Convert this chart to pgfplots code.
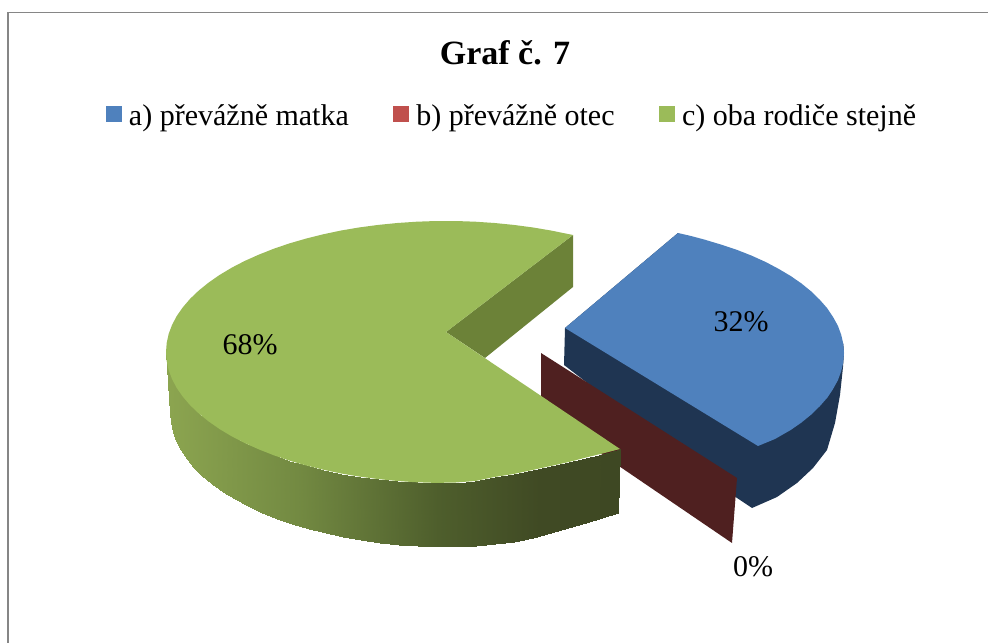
\documentclass[border=0pt]{standalone}
\usepackage{fontspec}
\setmainfont{Liberation Serif}
\usepackage{pgfplots}
\pgfplotsset{compat=1.18}
\definecolor{blueT}{HTML}{4F81BD}
\definecolor{blueD}{HTML}{1F3552}
\definecolor{redL}{HTML}{C0504D}
\definecolor{redD}{HTML}{4F2020}
\definecolor{greenT}{HTML}{9BBB59}
\definecolor{greenW}{HTML}{6C8238}
\definecolor{frame}{HTML}{868686}
\begin{document}
\begin{tikzpicture}
\begin{axis}[
  at={(0,0)}, anchor=south west,
  width=988bp, height=643bp, scale only axis,
  xmin=0, xmax=988, ymin=0, ymax=643, y dir=reverse,
  hide axis, clip=true,
  colormap={sidegreen}{rgb255(0pt)=(140,165,80); rgb255(130pt)=(115,138,66); rgb255(270pt)=(78,94,44); rgb255(370pt)=(64,74,36); rgb255(450pt)=(62,72,35)},
  legend columns=3,
  legend style={draw=none, fill=none, at={(axis cs:106,116)}, anchor=west, font=\fontsize{30bp}{32bp}\selectfont,
    /tikz/every even column/.append style={column sep=42.5bp},
    /tikz/every odd column/.append style={column sep=5bp}, inner sep=0pt, outer sep=0pt},
  legend cell align=left,
  legend image code/.code={\fill[#1] (0bp,-6bp) rectangle (16bp,10bp);},
]
\path (rel axis cs:0,0) rectangle (rel axis cs:1,1);
% frame
\addplot[frame, line width=1.3bp, forget plot] coordinates {(8,643) (8,12.5) (988,12.5)};
% blue side
\addplot[fill=blueD, draw=none, forget plot] coordinates {
(565,328)(678,233)(843.3,343.9)(844,353)(843,367)(840,395)(835,423)(827,450)(813,468)(797,483)(777,497)(752,508)(737,498)(564,365)} -- cycle;
% blue top
\addplot[fill=blueT, draw=none, forget plot] coordinates {
(565,328)(678,233)(691,236)(704.5,239.6)(720.8,244.5)(736.8,249.8)(751.5,255.6)(765.7,262)(778.5,268.8)(790.7,276)(801.5,283.5)(811.3,291.5)(819.8,299.8)(827.2,308.2)(833,316.9)(837.9,325.8)(841.2,334.8)(843.3,343.9)(844,353)(843.3,362.1)(841.2,371.2)(837.9,380.2)(833,389.1)(827.2,397.8)(819.8,406.2)(811.3,414.5)(801.5,422.5)(790.7,430)(775,439)(758,446)} -- cycle;
% red wall
\addplot[fill=redD, draw=none, forget plot] coordinates {
(541,353)(737,478)(732,543)(541,413)} -- cycle;
% green inner wall
\addplot[fill=greenW, draw=none, forget plot] coordinates {
(446,332)(573,235)(573,287)(485,358)} -- cycle;
% green outer side
\addplot[surf, shader=interp, mesh/rows=2, point meta=x, forget plot] table[x=x,y=y] {
x y
166 352
166.7 361.1
168.7 370.2
172.1 379.2
176.8 388.1
182.9 396.8
190.2 405.3
198.8 413.5
208.6 421.4
219.5 429
231.5 436.2
244.6 443
258.7 449.3
273.6 455.2
289.4 460.6
306 465.4
323.2 469.7
341.1 473.5
359.5 476.6
378.3 479.1
397.4 481
416.7 482.3
436.2 482.9
455.8 482.5
475.3 481
494.6 477
513.7 474
532.5 470
550.9 466
568.8 462
586 457.5
602.6 453.5
620 449
170 413
170.7 422.4
172.7 431.7
176.1 440.9
180.7 449.9
186.7 458.8
194 467.5
202.4 475.9
212.1 484
222.9 491.8
234.8 499.1
247.8 506.1
261.7 512.6
276.5 518.6
292.1 524.1
308.5 529
325.6 533.4
343.2 537.2
361.4 540.4
380 543
398.9 545
418.1 546.3
437.3 546.9
456.7 546.9
475.9 545.5
495.1 544
514 541.5
532.6 537.5
550.8 533
568.4 528
585.5 523
601.9 518
618 513
};
% green top
\addplot[fill=greenT, draw=none, forget plot] coordinates {
(446,332)(573,235)(550.9,230.5)(532.5,227.4)(513.7,224.9)(494.6,223)(475.3,221.7)(455.8,221)(436.2,221)(416.7,221.7)(397.4,223)(378.3,224.9)(359.5,227.4)(341.1,230.5)(323.2,234.3)(306,238.6)(289.4,243.4)(273.6,248.8)(258.7,254.7)(244.6,261)(231.5,267.8)(219.5,275)(208.6,282.6)(198.8,290.5)(190.2,298.7)(182.9,307.2)(176.8,315.9)(172.1,324.8)(168.7,333.8)(166.7,342.9)(166,352)
(166.7,361.1)(168.7,370.2)(172.1,379.2)(176.8,388.1)(182.9,396.8)(190.2,405.3)(198.8,413.5)(208.6,421.4)(219.5,429)(231.5,436.2)(244.6,443)(258.7,449.3)(273.6,455.2)(289.4,460.6)(306,465.4)(323.2,469.7)(341.1,473.5)(359.5,476.6)(378.3,479.1)(397.4,481)(416.7,482.3)(436.2,482.9)(455.8,482.5)(475.3,481)(494.6,477)(513.7,474)(532.5,470)(550.9,466)(568.8,462)(586,457.5)(602.6,453.5)(620,449)} -- cycle;
% legend
\addlegendimage{fill=blueT, draw=none}
\addlegendentry{a) převážně matka}
\addlegendimage{fill=redL, draw=none}
\addlegendentry{b) převážně otec}
\addlegendimage{fill=greenT, draw=none}
\addlegendentry{c) oba rodiče stejně}
% labels
\node[font=\bfseries\fontsize{34bp}{36bp}\selectfont, anchor=base] at (axis cs:505,65) {Graf č. 7};
\node[font=\fontsize{30bp}{32bp}\selectfont, anchor=base] at (axis cs:250,354) {68\%};
\node[font=\fontsize{30bp}{32bp}\selectfont, anchor=base] at (axis cs:741,331) {32\%};
\node[font=\fontsize{30bp}{32bp}\selectfont, anchor=base] at (axis cs:753,576) {0\%};
\end{axis}
\end{tikzpicture}
\end{document}
